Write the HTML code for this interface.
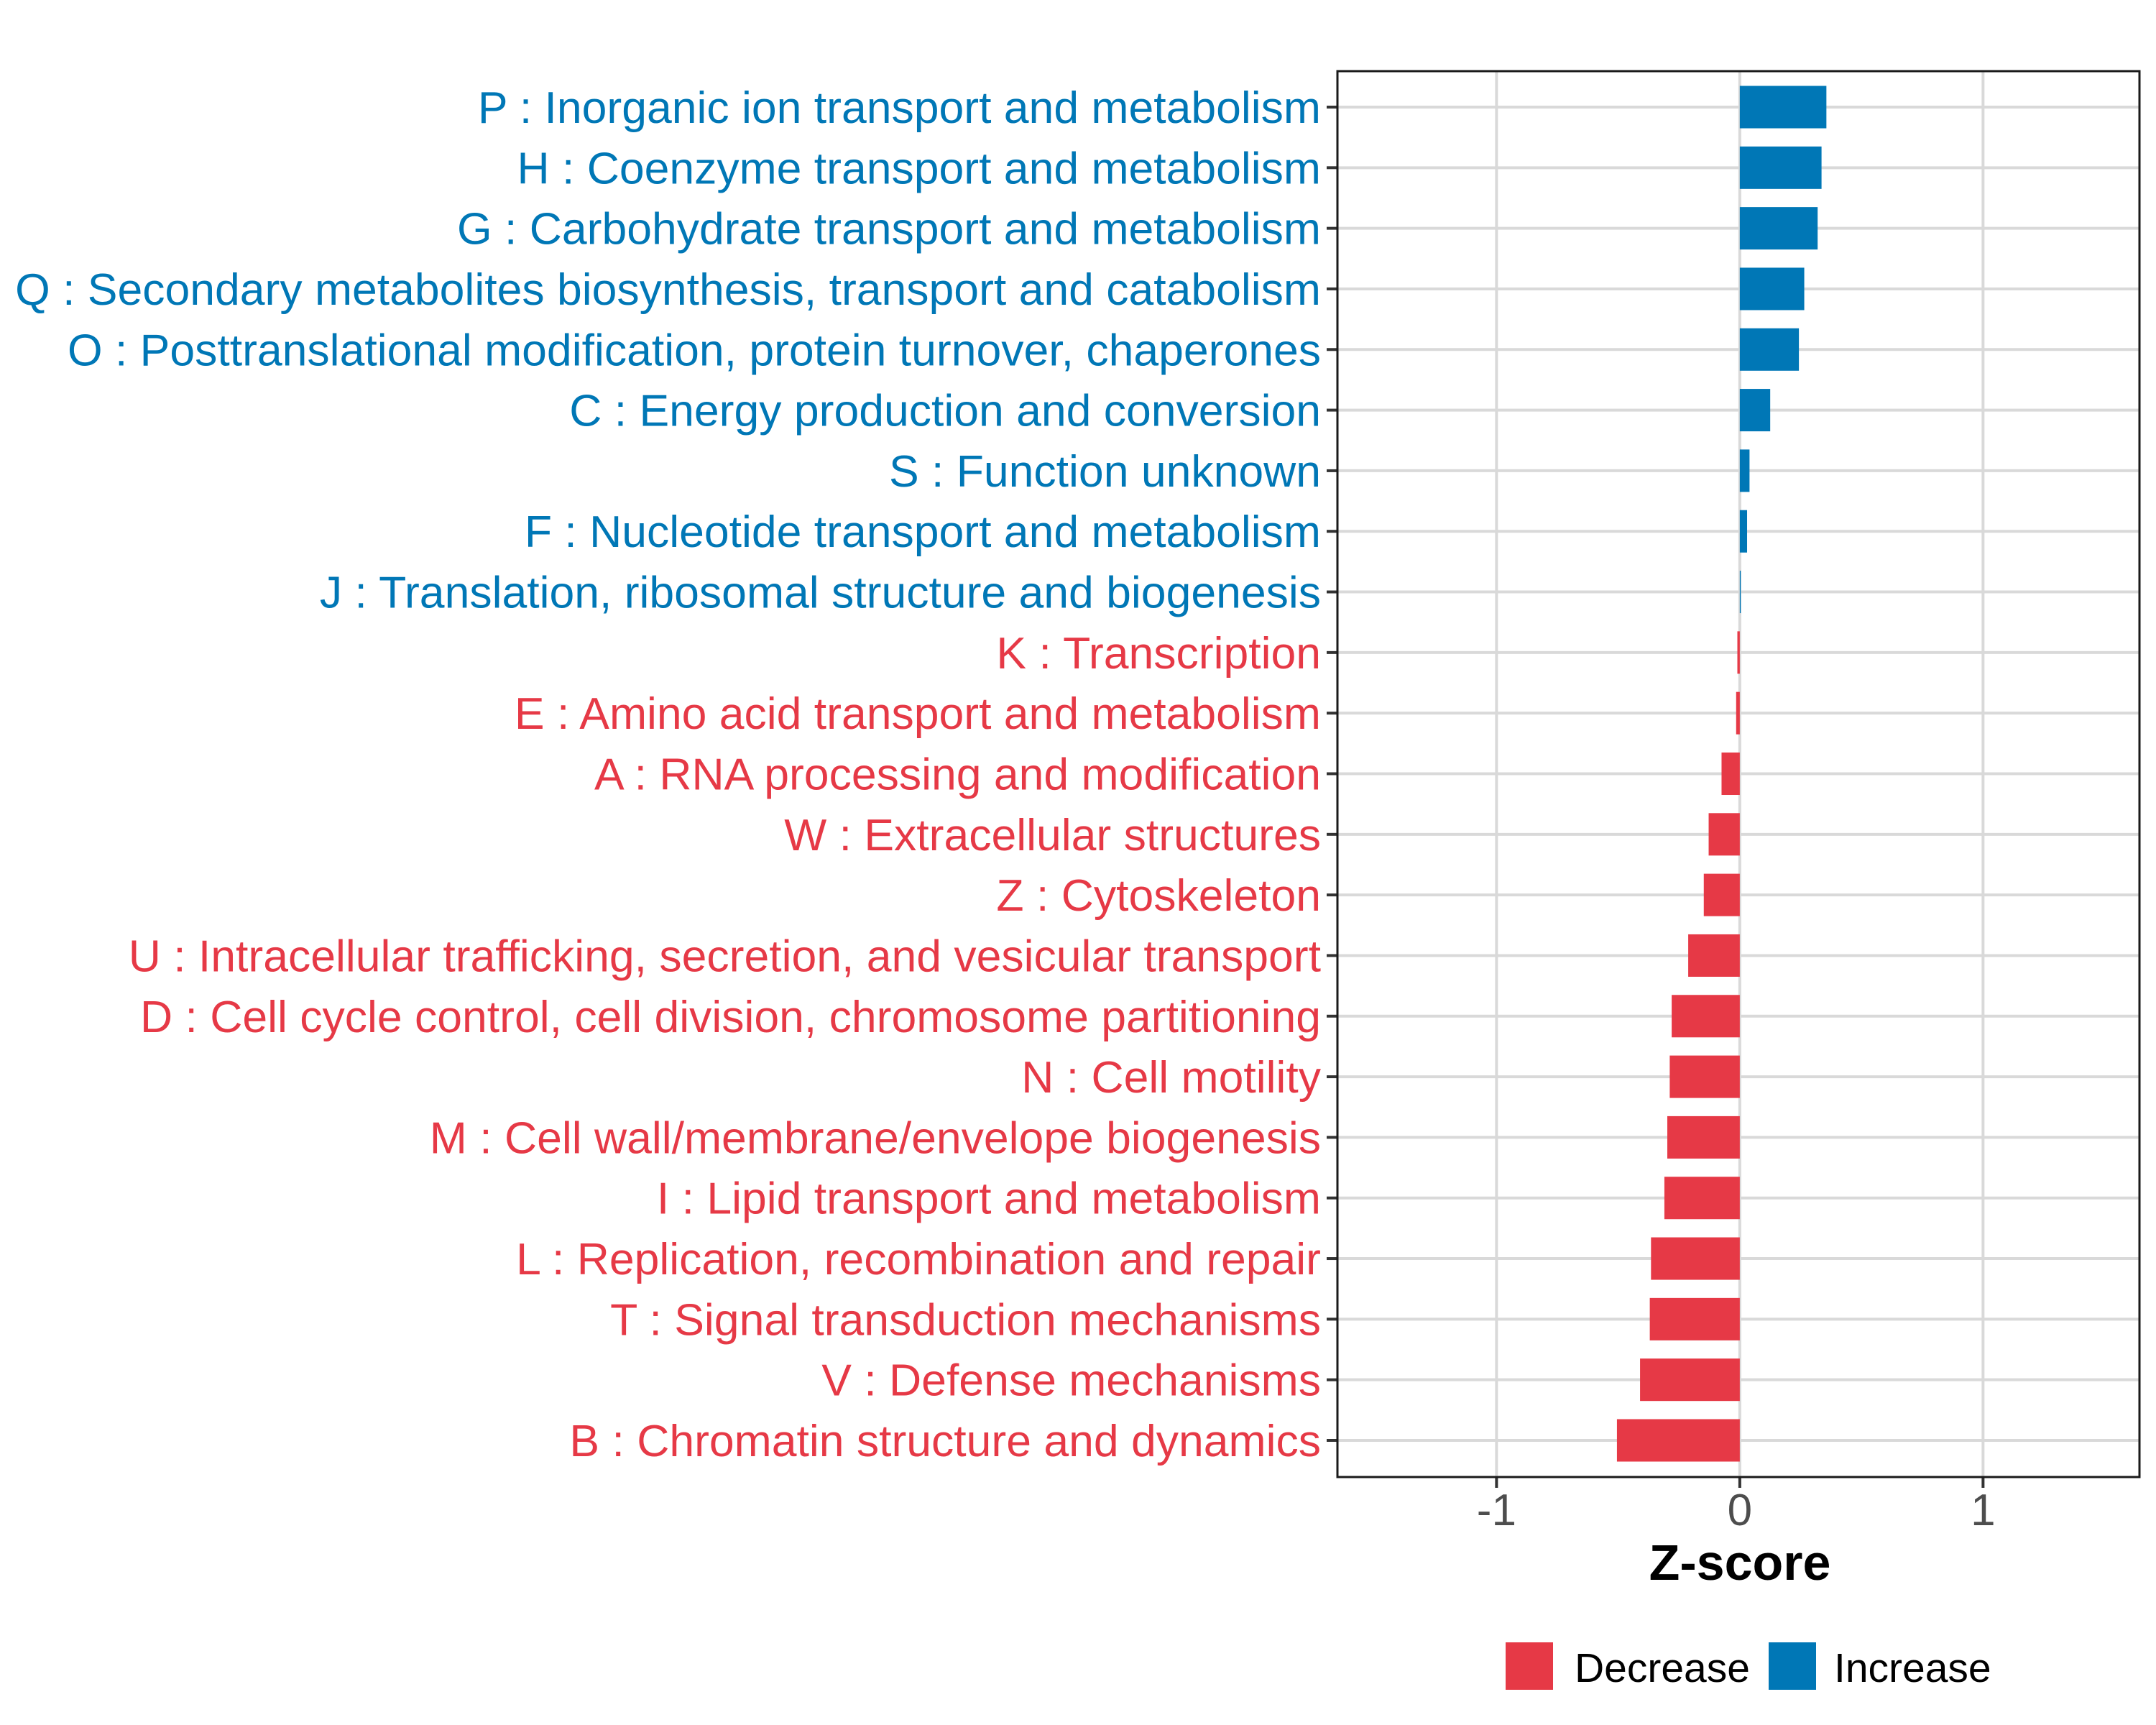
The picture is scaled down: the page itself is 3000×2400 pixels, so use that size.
<!DOCTYPE html>
<html><head><meta charset="utf-8"><style>
html,body{margin:0;padding:0;background:#fff}
svg{display:block}
text{font-family:"Liberation Sans",Arial,sans-serif}
</style></head><body>
<svg id="chart" width="3000" height="2400" viewBox="0 0 3000 2400" xmlns="http://www.w3.org/2000/svg">
<rect x="0" y="0" width="3000" height="2400" fill="#fff"/>
<g id="grid"></g>
<g id="bars"></g>
<g id="ylabels"></g>
<g id="xaxis"></g>
<rect x="1861" y="99" width="1116" height="1956" fill="none" stroke="#1a1a1a" stroke-width="3"/>
<text x="2421" y="2198" font-size="70" font-weight="bold" text-anchor="middle" fill="#000">Z-score</text>
<g>
<rect x="2095" y="2285" width="66" height="66" fill="#E63946"/>
<text x="2191" y="2340" font-size="57" fill="#000">Decrease</text>
<rect x="2461" y="2285" width="66" height="66" fill="#0077B6"/>
<text x="2552" y="2340" font-size="57" fill="#000">Increase</text>
</g>
</svg>
<script>
const categories = [
"P : Inorganic ion transport and metabolism",
"H : Coenzyme transport and metabolism",
"G : Carbohydrate transport and metabolism",
"Q : Secondary metabolites biosynthesis, transport and catabolism",
"O : Posttranslational modification, protein turnover, chaperones",
"C : Energy production and conversion",
"S : Function unknown",
"F : Nucleotide transport and metabolism",
"J : Translation, ribosomal structure and biogenesis",
"K : Transcription",
"E : Amino acid transport and metabolism",
"A : RNA processing and modification",
"W : Extracellular structures",
"Z : Cytoskeleton",
"U : Intracellular trafficking, secretion, and vesicular transport",
"D : Cell cycle control, cell division, chromosome partitioning",
"N : Cell motility",
"M : Cell wall/membrane/envelope biogenesis",
"I : Lipid transport and metabolism",
"L : Replication, recombination and repair",
"T : Signal transduction mechanisms",
"V : Defense mechanisms",
"B : Chromatin structure and dynamics"];
const zscores = [0.356,0.336,0.32,0.265,0.243,0.125,0.04,0.03,0.004,-0.01,-0.015,-0.075,-0.128,-0.148,-0.212,-0.28,-0.288,-0.298,-0.31,-0.365,-0.37,-0.41,-0.505];
const xTicks = [-1,0,1];
const xTickLabels = ["-1","0","1"];

const NS="http://www.w3.org/2000/svg";
const xMin=-1.654,xMax=1.643,pL=1861,pR=2977;
const yFirst=149,yLast=2004;
const xs=v=>pL+(v-xMin)/(xMax-xMin)*(pR-pL);
const ys=i=>yFirst+i*(yLast-yFirst)/(categories.length-1);
const step=(yLast-yFirst)/(categories.length-1);
function mk(tag,attrs,parent){const e=document.createElementNS(NS,tag);for(const k in attrs)e.setAttribute(k,attrs[k]);parent.appendChild(e);return e;}
const grid=document.getElementById('grid'),bars=document.getElementById('bars'),yl=document.getElementById('ylabels'),xa=document.getElementById('xaxis');
xTicks.forEach((t,i)=>{
  const l=mk('line',{x1:xs(t),x2:xs(t),y1:99,y2:2055,stroke:'#d9d9d9','stroke-width':4},grid);
  
  
  const tk=mk('line',{x1:xs(t),x2:xs(t),y1:2055,y2:2070,stroke:'#333','stroke-width':4},xa);
  
  
  const tx=mk('text',{x:xs(t),y:2122,'font-size':62,'text-anchor':'middle',fill:'#4d4d4d'},xa);
  tx.textContent=xTickLabels[i];
  
  
});
categories.forEach((c,i)=>{
  const y=ys(i);
  const g=mk('line',{x1:pL,x2:pR,y1:y,y2:y,stroke:'#d9d9d9','stroke-width':4},grid);
  
  
  const v=zscores[i];
  const col=v>=0?'#0077B6':'#E63946';
  const x0=xs(0),x1=xs(v);
  const r=mk('rect',{x:Math.min(x0,x1),y:y-step*0.35,width:Math.max(Math.abs(x1-x0),1),height:step*0.7,fill:col},bars);
  
  
  const tk=mk('line',{x1:1846,x2:1861,y1:y,y2:y,stroke:'#333','stroke-width':4},yl);
  
  
  const t=mk('text',{x:1838,y:y+22,'font-size':62.5,'text-anchor':'end',fill:col},yl);
  t.textContent=c;
  
  
});
</script>
</body></html>
